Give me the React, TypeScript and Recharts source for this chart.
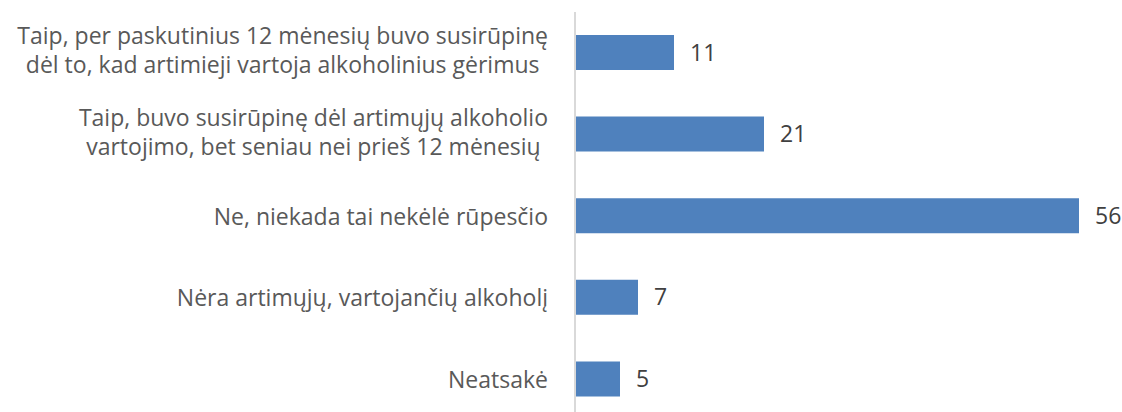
import React from "react";
import { BarChart, Bar, XAxis, YAxis, LabelList } from "recharts";

const categories = [
  "Taip, per paskutinius 12 mėnesių buvo susirūpinę\ndėl to, kad artimieji vartoja alkoholinius gėrimus",
  "Taip, buvo susirūpinę dėl artimųjų alkoholio\nvartojimo, bet seniau nei prieš 12 mėnesių",
  "Ne, niekada tai nekėlė rūpesčio",
  "Nėra artimųjų, vartojančių alkoholį",
  "Neatsakė",
];
const values = [11, 21, 56, 7, 5];

const data = categories.map((name, i) => ({ name, value: values[i] }));

const FONT_SIZE = 23;
const FONT = `${FONT_SIZE}px "Open Sans"`;
const LINE_HEIGHT = 29;

let ctx: CanvasRenderingContext2D | null = null;
function textWidth(s: string) {
  if (!ctx) ctx = document.createElement("canvas").getContext("2d");
  if (!ctx) return s.length * FONT_SIZE * 0.5;
  ctx.font = FONT;
  return ctx.measureText(s).width;
}

function CategoryTick({ x, y, payload }: { x?: number; y?: number; payload?: { value: string } }) {
  if (x == null || y == null || !payload) return null;
  const lines = String(payload.value).split("\n");
  const maxW = Math.max(...lines.map(textWidth));
  const cx = x - maxW / 2;
  // single lines sit a bit lower than wrapped ones in the original
  const first = y - ((lines.length - 1) * LINE_HEIGHT) / 2 + (lines.length > 1 ? 6 : 8.5);
  return (
    <text
      textAnchor="middle"
      fill="#595959"
      style={{ fontFamily: '"Open Sans"', fontSize: FONT_SIZE }}
    >
      {lines.map((l, i) => (
        <tspan key={i} x={cx} y={first + i * LINE_HEIGHT}>
          {l}
        </tspan>
      ))}
    </text>
  );
}

export default function App() {
  return (
    <div
      style={{
        position: "absolute",
        left: 0,
        top: 0,
        width: 1122,
        height: 412,
        overflow: "hidden",
        background: "#fff",
      }}
    >
      <BarChart
        layout="vertical"
        width={1122}
        height={420}
        data={data}
        margin={{ top: 12, right: 7, bottom: 0, left: 0 }}
      >
        <XAxis type="number" domain={[0, 60]} hide />
        <YAxis
          type="category"
          dataKey="name"
          width={575}
          tickLine={false}
          tickSize={0}
          tickMargin={27}
          axisLine={{ stroke: "#d9d9d9", strokeWidth: 2 }}
          tick={<CategoryTick />}
          interval={0}
        />
        <Bar dataKey="value" fill="#4f81bd" barSize={35} isAnimationActive={false}>
          <LabelList
            dataKey="value"
            position="right"
            offset={16}
            fill="#404040"
            style={{ fontFamily: '"Open Sans"', fontSize: FONT_SIZE }}
          />
        </Bar>
      </BarChart>
    </div>
  );
}
